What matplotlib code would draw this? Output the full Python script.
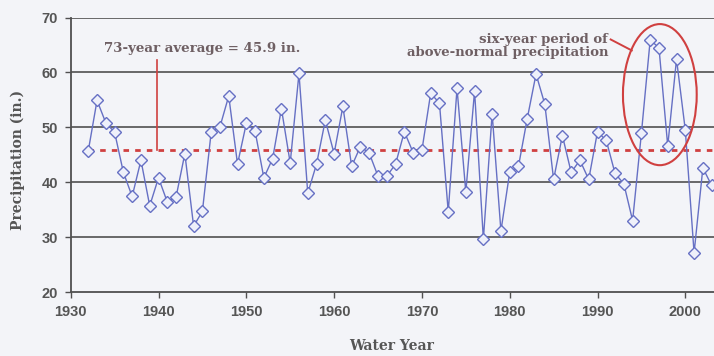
import matplotlib
matplotlib.use("Agg")
import matplotlib.pyplot as plt
from matplotlib.patches import Ellipse

# Annual precipitation, water years 1932-2003 (inches)
years = list(range(1932, 2004))
precip = [
    45.7, 54.9, 50.8, 49.1, 41.8, 37.4, 44.0, 35.7, 40.8, 36.4,
    37.3, 45.2, 32.0, 34.7, 49.1, 50.1, 55.7, 43.3, 50.7, 49.3,
    40.8, 44.3, 53.4, 43.5, 59.8, 38.0, 43.3, 51.3, 45.2, 53.8,
    42.9, 46.5, 45.3, 41.1, 41.1, 43.3, 49.2, 45.4, 45.8, 56.2,
    54.4, 34.6, 57.1, 38.2, 56.6, 29.6, 52.5, 31.1, 41.8, 42.9,
    51.6, 59.7, 54.2, 40.5, 48.5, 41.8, 44.0, 40.5, 49.2, 47.6,
    41.6, 39.7, 33.0, 48.9, 65.9, 64.5, 46.6, 62.4, 49.5, 27.1,
    42.6, 39.4,
]
average = 45.9
yticks = [20, 30, 40, 50, 60, 70]
xticks = [1930, 1940, 1950, 1960, 1970, 1980, 1990, 2000]

bg = "#f3f4f8"
grid_col = "#505050"
text_col = "#6e5f63"
red = "#d04040"
blue = "#6670c4"

fig = plt.figure(figsize=(7.14, 3.56), dpi=100, facecolor=bg)
ax = fig.add_axes([70.7 / 714, 64 / 356, (714 - 70.7) / 714, 274.5 / 356])
ax.set_facecolor(bg)

ax.set_xlim(1930, 1930 + (714 - 70.7) / 8.78)
ax.set_ylim(20, 70)

for v in yticks[1:]:
    ax.axhline(v, color=grid_col, lw=1.2, zorder=1)

# average line
ax.plot([years[0], 2010], [average, average], color=red, lw=2,
        linestyle=(0, (2, 2.2)), zorder=2)

ax.plot(years, precip, color=blue, lw=1.0, marker="D", markersize=5.8,
        markerfacecolor="#eef0fa", markeredgecolor=blue, markeredgewidth=1.0,
        zorder=3)

# annotations
ax.plot([1939.8, 1939.8], [average, 62.2], color=red, lw=1.2, zorder=2)
ax.text(1944.95, 64.4, "73-year average = 45.9 in.", ha="center", va="center",
        fontsize=9.6, family="DejaVu Serif", color=text_col, fontweight="bold")

ax.text(1991.2, 66.0, "six-year period of", ha="right", va="center",
        fontsize=9.5, family="DejaVu Serif", color=text_col, fontweight="bold")
ax.text(1991.2, 63.6, "above-normal precipitation", ha="right", va="center",
        fontsize=9.5, family="DejaVu Serif", color=text_col, fontweight="bold")
ax.plot([1991.5, 1993.9], [66.0, 64.0], color=red, lw=1.4, zorder=2)
ax.add_patch(Ellipse((1997.1, 55.95), 8.4, 25.7, fill=False, edgecolor=red,
                     lw=1.5, zorder=4))

ax.set_xticks(xticks)
ax.set_yticks(yticks)
for lab in ax.get_xticklabels() + ax.get_yticklabels():
    lab.set_family("Liberation Sans")
    lab.set_fontsize(10.5)
    lab.set_color("#555555")
    lab.set_fontweight("bold")
ax.tick_params(axis="both", direction="out", length=4, width=1, color=grid_col,
               pad=5)

for side in ["top", "right"]:
    ax.spines[side].set_visible(False)
for side in ["left", "bottom"]:
    ax.spines[side].set_color(grid_col)
    ax.spines[side].set_linewidth(1.3)

fig.text(392 / 714, 1 - 346 / 356, "Water Year", ha="center", va="center",
         fontsize=10, family="DejaVu Serif", fontweight="bold", color="#555555")
fig.text(18 / 714, 1 - 160 / 356, "Precipitation (in.)", ha="center",
         va="center", rotation=90, fontsize=10, family="DejaVu Serif",
         fontweight="bold", color="#555555")

fig.savefig("out.png", dpi=100, facecolor=bg)
